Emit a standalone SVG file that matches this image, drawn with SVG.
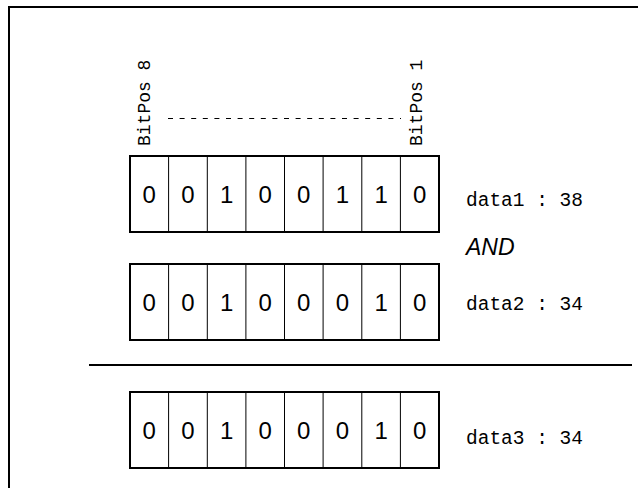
<svg xmlns="http://www.w3.org/2000/svg" width="638" height="488" viewBox="0 0 638 488">
<style>
.frame{fill:none;stroke:#000;stroke-width:2}
.box{fill:#fff;stroke:#000;stroke-width:2}
.div{stroke:#000;stroke-width:1}
.bit{font-family:"Liberation Sans",Arial,sans-serif;font-size:24px;text-anchor:middle;fill:#000}
.mono{font-family:"Liberation Mono","Courier New",monospace;font-size:18px;fill:#000}
.dl{font-size:19.5px}
.op{font-family:"Liberation Sans",Arial,sans-serif;font-size:23px;font-style:italic;fill:#000}
</style>
<defs>
<g id="cells">
<line class="div" x1="168.6" y1="0" x2="168.6" y2="76"/>
<line class="div" x1="207.3" y1="0" x2="207.3" y2="76"/>
<line class="div" x1="245.9" y1="0" x2="245.9" y2="76"/>
<line class="div" x1="284.5" y1="0" x2="284.5" y2="76"/>
<line class="div" x1="323.1" y1="0" x2="323.1" y2="76"/>
<line class="div" x1="361.8" y1="0" x2="361.8" y2="76"/>
<line class="div" x1="400.4" y1="0" x2="400.4" y2="76"/>
</g>
</defs>
<rect class="frame" x="9" y="7" width="640" height="500"/>
<g id="labels">
<text class="mono" transform="translate(150,146) rotate(-90)">BitPos 8</text>
<text class="mono" transform="translate(422,146) rotate(-90)">BitPos 1</text>
</g>
<g id="connectors">
<line x1="168" y1="118.5" x2="401" y2="118.5" stroke="#000" stroke-width="1" stroke-dasharray="5,6.6"/>
<line x1="89" y1="365" x2="632" y2="365" stroke="#000" stroke-width="2"/>
</g>
<g id="data1">
<rect class="box" x="130" y="156" width="309" height="76"/>
<use href="#cells" y="156"/>
<text class="bit" y="203"><tspan x="149.3">0</tspan><tspan x="187.9">0</tspan><tspan x="226.6">1</tspan><tspan x="265.2">0</tspan><tspan x="303.8">0</tspan><tspan x="342.4">1</tspan><tspan x="381.1">1</tspan><tspan x="419.7">0</tspan></text>
<text class="mono dl" x="466" y="206">data1 : 38</text>
</g>
<g id="and">
<text class="op" x="466" y="255">AND</text>
</g>
<g id="data2">
<rect class="box" x="130" y="264" width="309" height="76"/>
<use href="#cells" y="264"/>
<text class="bit" y="311"><tspan x="149.3">0</tspan><tspan x="187.9">0</tspan><tspan x="226.6">1</tspan><tspan x="265.2">0</tspan><tspan x="303.8">0</tspan><tspan x="342.4">0</tspan><tspan x="381.1">1</tspan><tspan x="419.7">0</tspan></text>
<text class="mono dl" x="466" y="310">data2 : 34</text>
</g>
<g id="data3">
<rect class="box" x="130" y="392" width="309" height="76"/>
<use href="#cells" y="392"/>
<text class="bit" y="439"><tspan x="149.3">0</tspan><tspan x="187.9">0</tspan><tspan x="226.6">1</tspan><tspan x="265.2">0</tspan><tspan x="303.8">0</tspan><tspan x="342.4">0</tspan><tspan x="381.1">1</tspan><tspan x="419.7">0</tspan></text>
<text class="mono dl" x="466" y="444">data3 : 34</text>
</g>
</svg>
